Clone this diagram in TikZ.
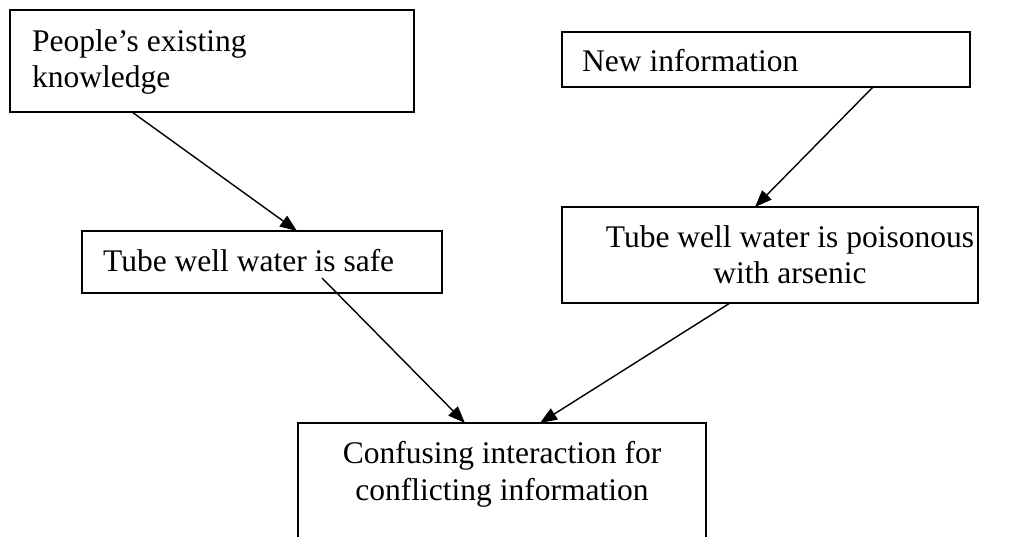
\documentclass[tikz,border=0pt]{standalone}
\usepackage{fontspec}
\setmainfont{Liberation Serif}
\usetikzlibrary{arrows.meta}

\tikzset{
  box/.style={draw, line width=2pt, inner sep=0pt, outer sep=0pt, anchor=north west},
  txt/.style={font=\fontsize{31.5}{36}\selectfont, inner sep=0pt},
  link/.style={line width=1.4pt, -{Triangle[length=17pt,width=13pt]}}
}

\begin{document}
\begin{tikzpicture}[x=1pt,y=-1pt]
        \useasboundingbox (0,0) rectangle (1010,537);
        \clip (0,0) rectangle (1010,537);

        % boxes
        \begin{scope}[every node/.style={box}]
          \node[minimum width=404pt, minimum height=102pt] (know)    at (10,10)   {};
          \node[minimum width=408pt, minimum height=55pt]  (newinfo) at (562,32)  {};
          \node[minimum width=360pt, minimum height=62pt]  (safe)    at (82,231)  {};
          \node[minimum width=416pt, minimum height=96pt]  (poison)  at (562,207) {};
          \node[minimum width=408pt, minimum height=140pt] (confuse) at (298,423) {};
        \end{scope}

        % texts (base = last line)
        \begin{scope}[every node/.style={txt, anchor=base west, align=left}]
          \node (know-txt)    at (32,88)  {People’s existing\\knowledge};
          \node (newinfo-txt) at (582,72) {New information};
          \node (safe-txt)    at (103,272) {Tube well water is safe};
        \end{scope}
        \begin{scope}[every node/.style={txt, anchor=base, align=center}]
          \node (poison-txt)  at (790,284) {Tube well water is poisonous\\with arsenic};
          \node (confuse-txt) at (502,500) {Confusing interaction for\\conflicting information};
        \end{scope}

        % arrows
        \draw[link] ([xshift=122pt]know.south west) -- ([xshift=215pt]safe.north west);
        \draw[link] ([xshift=311pt]newinfo.south west) -- ([xshift=193pt]poison.north west);
        \draw[link] ([xshift=240pt,yshift=15pt]safe.south west) -- ([xshift=167pt]confuse.north west);
        \draw[link] ([xshift=168pt]poison.south west) -- ([xshift=242pt]confuse.north west);

      \end{tikzpicture}
\end{document}
